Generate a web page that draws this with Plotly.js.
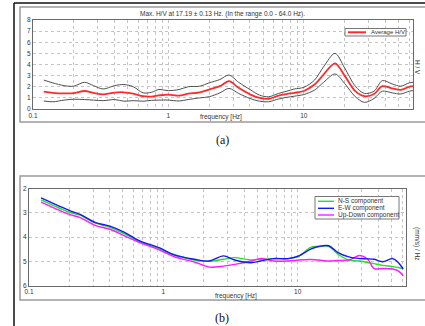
<!DOCTYPE html>
<html>
<head>
<meta charset="utf-8">
<script src="https://cdn.plot.ly/plotly-3.0.1.min.js"></script>
<style>
html,body{margin:0;padding:0;background:#fff;}
#chart{width:425px;height:326px;}
</style>
</head>
<body>
<div id="chart"></div>
<script>
// ---------- DATA ----------
// Panel (a): H/V spectral ratio
const freqA = [0.12,0.14,0.17,0.2,0.24,0.28,0.33,0.4,0.47,0.55,0.65,0.75,0.85,1.0,1.2,1.4,1.7,2.0,2.4,2.8,3.3,4.0,4.7,5.5,6.5,7.5,8.5,10,12,14,17,20,24,28,33,38,45,52,60,64];
const hvAverage = [1.56,1.45,1.40,1.42,1.62,1.45,1.32,1.48,1.50,1.38,1.15,1.12,1.22,1.30,1.20,1.38,1.50,1.75,2.05,2.50,1.90,1.32,1.00,0.92,1.20,1.35,1.45,1.62,2.20,3.10,4.10,3.00,1.60,1.15,1.35,2.05,1.85,1.72,2.00,2.05];
const hvUpper   = [2.60,2.35,2.10,2.05,2.40,2.10,1.80,2.10,2.20,2.00,1.45,1.50,1.75,1.65,1.75,2.00,2.05,2.35,2.65,3.05,2.40,1.75,1.25,1.10,1.40,1.60,1.80,1.95,2.60,3.80,5.00,3.70,2.05,1.40,1.60,2.55,2.25,2.05,2.35,2.40];
const hvLower   = [0.72,0.65,0.80,0.88,0.85,0.80,0.75,0.85,0.70,0.75,0.70,0.78,0.80,0.80,0.72,0.85,1.00,1.10,1.45,1.85,1.40,0.95,0.70,0.65,0.90,1.05,1.15,1.30,1.70,2.40,3.15,2.30,1.10,0.60,0.95,1.60,1.45,1.35,1.60,1.65];
const legendA = "Average H/V";
const titleA = "Max. H/V at 17.19 ± 0.13 Hz. (In the range 0.0 - 64.0 Hz).";

// Panel (b): single-component spectra
const freqB = [0.123,0.2,0.24,0.31,0.4,0.51,0.66,0.94,1.2,1.7,2.2,2.8,3.4,4.5,5.3,6.6,8.5,10.2,12.5,14.3,17,20,24,29,33,37,43,51,56,61];
const nsComp = [2.47,2.98,3.10,3.42,3.60,3.86,4.18,4.50,4.72,4.95,5.00,4.92,4.85,4.95,4.92,4.89,4.89,4.80,4.43,4.39,4.38,4.71,4.95,4.99,5.05,5.10,5.17,5.22,5.26,5.30];
const ewComp = [2.39,2.91,3.07,3.40,3.55,3.80,4.15,4.45,4.74,4.92,4.99,4.78,4.95,5.06,4.99,4.89,4.89,4.78,4.50,4.39,4.36,4.64,4.82,4.89,4.90,4.92,5.02,4.89,5.05,5.32];
const udComp = [2.56,3.07,3.20,3.52,3.68,3.94,4.22,4.54,4.81,5.03,5.24,5.20,5.13,4.99,4.88,4.99,4.99,4.95,4.93,4.95,4.99,4.97,4.95,4.76,4.90,5.30,5.30,5.32,5.40,5.60];
const legendB = ["N-S component","E-W component","Up-Down component"];

// tick positions / labels
const xGridVals = [0.1,0.2,0.3,0.4,0.5,0.6,0.7,0.8,0.9,1,2,3,4,5,6,7,8,9,10,20,30,40,50,60];
const xGridText = xGridVals.map(v => (v===0.1?"0.1":v===1?"1":v===10?"10":""));
const yTicksA = [0,1,2,3,4,5,6,7,8];
const yTicksB = [2,3,4,5,6];

// ---------- LAYOUT HELPERS ----------
const W = 425, H = 326;
const px = x => x / W;
const py = y => 1 - y / H;

const tickFont = {family: "Liberation Sans, Arial, sans-serif", size: 6.5, color: "#333"};
const txtFont = {family: "Liberation Sans, Arial, sans-serif", size: 6.5, color: "#333"};

const colRed = "#ff2a2a", colGray = "#505050";
const colGreen = "#22e022", colBlue = "#1515ff", colMag = "#ff1aff";
const sm = 0.9;

const traces = [
  {x: freqA, y: hvUpper, type: "scatter", mode: "lines", line: {color: colGray, width: 1, shape: "spline", smoothing: sm}, xaxis: "x", yaxis: "y", hoverinfo: "skip"},
  {x: freqA, y: hvLower, type: "scatter", mode: "lines", line: {color: colGray, width: 1, shape: "spline", smoothing: sm}, xaxis: "x", yaxis: "y", hoverinfo: "skip"},
  {x: freqA, y: hvAverage, type: "scatter", mode: "lines", line: {color: colRed, width: 1.8, shape: "spline", smoothing: sm}, xaxis: "x", yaxis: "y", name: legendA},
  {x: freqB, y: nsComp, type: "scatter", mode: "lines", line: {color: colGreen, width: 1.4, shape: "spline", smoothing: sm}, xaxis: "x2", yaxis: "y2", name: legendB[0]},
  {x: freqB, y: udComp, type: "scatter", mode: "lines", line: {color: colMag, width: 1.4, shape: "spline", smoothing: sm}, xaxis: "x2", yaxis: "y2", name: legendB[2]},
  {x: freqB, y: ewComp, type: "scatter", mode: "lines", line: {color: colBlue, width: 1.4, shape: "spline", smoothing: sm}, xaxis: "x2", yaxis: "y2", name: legendB[1]}
];

const axisCommon = {
  showline: true, mirror: true, linecolor: "#6a6a6a", linewidth: 1,
  showgrid: true, gridcolor: "#c4c4c4", griddash: "dot", gridwidth: 1,
  zeroline: false, ticks: "", tickfont: tickFont, fixedrange: true
};

const shapes = [
  // outer frame (black)
  {type: "line", xref: "paper", yref: "paper", x0: px(14), x1: px(14), y0: py(3), y1: py(326), line: {color: "#111", width: 1.5}},
  {type: "line", xref: "paper", yref: "paper", x0: px(14), x1: px(426), y0: py(3), y1: py(3), line: {color: "#111", width: 1.5}},
  // panel boxes (gray)
  {type: "rect", xref: "paper", yref: "paper", x0: px(20), x1: px(428), y0: py(7), y1: py(122), line: {color: "#9a9a9a", width: 1.5}, layer: "below"},
  {type: "rect", xref: "paper", yref: "paper", x0: px(20), x1: px(428), y0: py(176), y1: py(300), line: {color: "#9a9a9a", width: 1.5}, layer: "below"},
  // legend (a)
  {type: "rect", xref: "paper", yref: "paper", x0: px(345), x1: px(406), y0: py(28.5), y1: py(36), line: {color: "#777", width: 1}, fillcolor: "#fff"},
  {type: "line", xref: "paper", yref: "paper", x0: px(348), x1: px(366), y0: py(32.3), y1: py(32.3), line: {color: colRed, width: 2}},
  // legend (b)
  {type: "rect", xref: "paper", yref: "paper", x0: px(315), x1: px(399), y0: py(196.5), y1: py(219), line: {color: "#777", width: 1}, fillcolor: "#fff"},
  {type: "line", xref: "paper", yref: "paper", x0: px(318), x1: px(334), y0: py(201.3), y1: py(201.3), line: {color: colGreen, width: 1.4}},
  {type: "line", xref: "paper", yref: "paper", x0: px(318), x1: px(334), y0: py(208.3), y1: py(208.3), line: {color: colBlue, width: 1.4}},
  {type: "line", xref: "paper", yref: "paper", x0: px(318), x1: px(334), y0: py(215), y1: py(215), line: {color: colMag, width: 1.4}}
];

const ann = (text, x, y, opts) => Object.assign({
  text: text, xref: "paper", yref: "paper", x: px(x), y: py(y),
  showarrow: false, font: txtFont, xanchor: "center", yanchor: "middle", borderpad: 0
}, opts || {});

const annotations = [
  ann(titleA, 222, 14.5),
  ann("frequency [Hz]", 221, 117),
  ann("H / V", 418, 67, {textangle: 90}),
  ann(legendA, 370, 32.3, {xanchor: "left", font: Object.assign({}, txtFont, {size: 6})}),
  ann("frequency [Hz]", 236, 296),
  ann("(mm/s) / Hz", 417, 244, {textangle: 90}),
  ann(legendB[0], 337, 201.3, {xanchor: "left"}),
  ann(legendB[1], 337, 208.3, {xanchor: "left"}),
  ann(legendB[2], 337, 215, {xanchor: "left"}),
  ann("(a)", 222, 139.5, {font: {family: "Liberation Serif, Times New Roman, serif", size: 12, color: "#111"}}),
  ann("(b)", 222, 318, {font: {family: "Liberation Serif, Times New Roman, serif", size: 12, color: "#111"}})
];

const layout = {
  width: W, height: H,
  margin: {l: 0, r: 0, t: 0, b: 0, pad: 0},
  paper_bgcolor: "#fff", plot_bgcolor: "#fff",
  showlegend: false,
  xaxis: Object.assign({}, axisCommon, {
    type: "log", domain: [px(33), px(413)], range: [-1, Math.log10(64)],
    tickmode: "array", tickvals: xGridVals, ticktext: xGridText, anchor: "y"
  }),
  yaxis: Object.assign({}, axisCommon, {
    domain: [py(109), py(20)], range: [0, 8],
    tickmode: "array", tickvals: yTicksA, anchor: "x"
  }),
  xaxis2: Object.assign({}, axisCommon, {
    type: "log", domain: [px(29), px(406)], range: [-1, Math.log10(64)],
    tickmode: "array", tickvals: xGridVals, ticktext: xGridText, anchor: "y2"
  }),
  yaxis2: Object.assign({}, axisCommon, {
    domain: [py(285.5), py(188.5)], range: [6, 2],
    tickmode: "array", tickvals: yTicksB, anchor: "x2"
  }),
  shapes: shapes,
  annotations: annotations
};

Plotly.newPlot("chart", traces, layout, {displayModeBar: false, staticPlot: true});
</script>
</body>
</html>
